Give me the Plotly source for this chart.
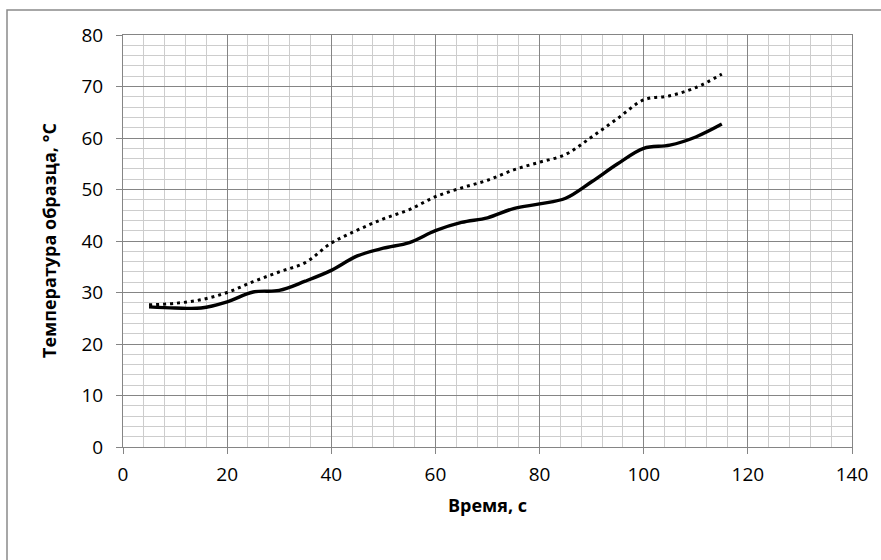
import plotly.graph_objects as go

time_s = [5, 10, 15, 20, 25, 30, 35, 40, 45, 50, 55, 60, 65, 70, 75, 80, 85, 90, 95, 100, 105, 110, 115]
temp_solid = [27.2, 27.0, 27.0, 28.2, 30.1, 30.4, 32.2, 34.3, 37.1, 38.6, 39.7, 42.0, 43.6, 44.5, 46.3,
              47.2, 48.3, 51.5, 55.0, 58.0, 58.6, 60.2, 62.7]
temp_dotted = [27.6, 27.9, 28.6, 30.0, 32.1, 34.0, 35.8, 39.6, 42.1, 44.3, 46.1, 48.6, 50.3, 51.8, 53.8,
               55.3, 56.8, 60.2, 63.8, 67.4, 68.2, 69.8, 72.4]

x_title = "Время, с"
y_title = "Температура образца, °C"

FONT = "Open Sans, Lato, DejaVu Sans, sans-serif"
MAJOR = "#858585"
MINOR = "#cdcdcd"

fig = go.Figure()
fig.add_trace(go.Scatter(x=time_s, y=temp_dotted, mode="lines",
                         line=dict(color="black", width=3, dash="3px,4px", shape="spline", smoothing=1.0),
                         showlegend=False, hoverinfo="skip"))
fig.add_trace(go.Scatter(x=time_s, y=temp_solid, mode="lines",
                         line=dict(color="black", width=3.4, shape="spline", smoothing=1.0),
                         showlegend=False, hoverinfo="skip"))

fig.update_layout(
    width=881, height=560,
    margin=dict(l=123, r=29, t=35, b=113, autoexpand=False),
    paper_bgcolor="white", plot_bgcolor="white",
    font=dict(family=FONT, size=19, color="black"),
    xaxis=dict(range=[0, 140], dtick=20, tick0=0, showgrid=True, gridcolor=MAJOR, gridwidth=1,
               zeroline=False, showline=True, linecolor=MAJOR, linewidth=1, mirror=True,
               ticks="outside", ticklen=6, tickcolor=MAJOR, tickwidth=1,
               ticklabelstandoff=4,
               tickfont=dict(family=FONT, size=19, color="black"),
               minor=dict(dtick=4, tick0=0, showgrid=True, gridcolor=MINOR, gridwidth=1, ticks=""),
               fixedrange=True),
    yaxis=dict(range=[0, 80], dtick=10, tick0=0, showgrid=True, gridcolor=MAJOR, gridwidth=1,
               zeroline=False, showline=True, linecolor=MAJOR, linewidth=1, mirror=True,
               ticks="outside", ticklen=6, tickcolor=MAJOR, tickwidth=1,
               ticklabelstandoff=9,
               tickfont=dict(family=FONT, size=19, color="black"),
               minor=dict(dtick=2, tick0=0, showgrid=True, gridcolor=MINOR, gridwidth=1, ticks=""),
               fixedrange=True),
    shapes=[dict(type="rect", xref="paper", yref="paper",
                 x0=(7 - 123) / 729, x1=1.2, y0=-0.5, y1=(447 - 10) / 412,
                 line=dict(color="#8a8a8a", width=1.5), fillcolor="rgba(0,0,0,0)", layer="below")],
    annotations=[
        dict(text=f"<b>{x_title}</b>", xref="paper", yref="paper", x=0.5, y=0,
             xanchor="center", yanchor="middle", yshift=-58, showarrow=False,
             font=dict(family=FONT, size=18, color="black")),
        dict(text=f"<b>{y_title}</b>", xref="paper", yref="paper", x=0, y=0.5,
             xanchor="center", yanchor="middle", xshift=-74, textangle=-90, showarrow=False,
             font=dict(family=FONT, size=18, color="black")),
    ],
)

fig.write_html("out.html", config={"displayModeBar": False})
